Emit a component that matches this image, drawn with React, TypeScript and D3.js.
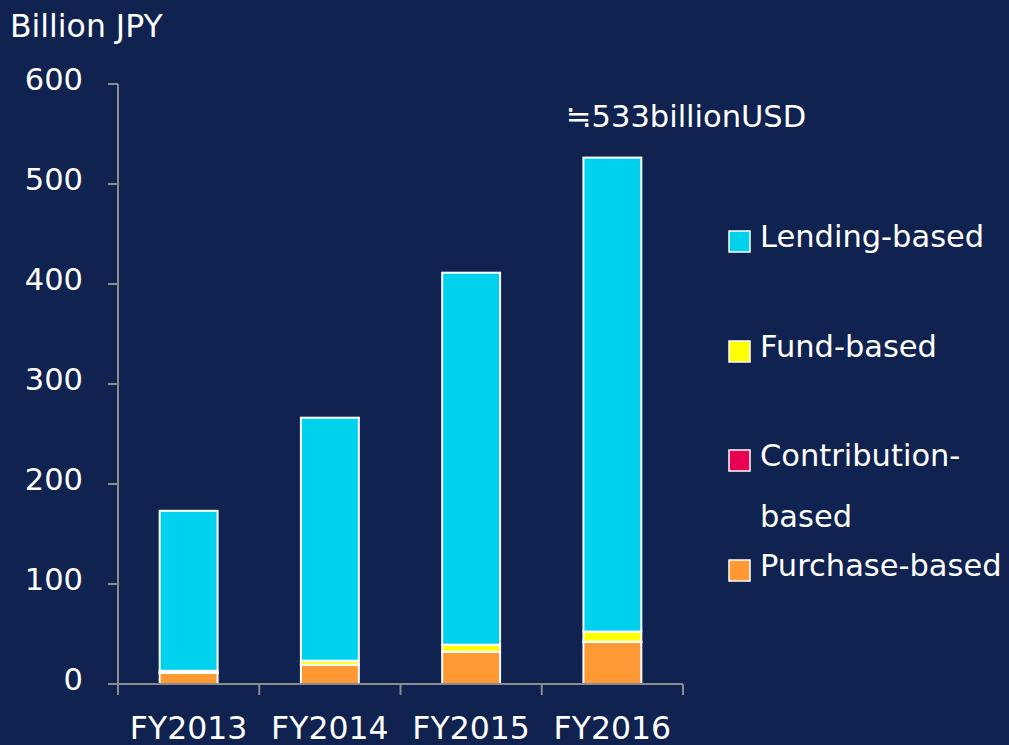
import React from "react";
import * as d3 from "d3";

const categories = ["FY2013", "FY2014", "FY2015", "FY2016"];
const seriesKeys = ["Purchase-based", "Contribution-based", "Fund-based", "Lending-based"];
const purchase = [11, 19, 32, 42];
const contribution = [0.2, 0.3, 0.3, 0.4];
const fund = [2, 4, 7, 10];
const lending = [160, 243, 372, 474];
const yTicks = [0, 100, 200, 300, 400, 500, 600];
const colors: Record<string, string> = {
  "Purchase-based": "#FF9933",
  "Contribution-based": "#EA0050",
  "Fund-based": "#FFFF00",
  "Lending-based": "#00D2EE",
};
const legendItems = [
  { key: "Lending-based", lines: ["Lending-based"] },
  { key: "Fund-based", lines: ["Fund-based"] },
  { key: "Contribution-based", lines: ["Contribution-", "based"] },
  { key: "Purchase-based", lines: ["Purchase-based"] },
];
const annotation = "≒533billionUSD";
const unitLabel = "Billion JPY";

export default function App() {
  const W = 1009, H = 745;
  const font = "'DejaVu Sans', Verdana, sans-serif";
  const x = d3.scaleBand<string>().domain(categories).range([118, 683]).paddingInner(0.59).paddingOuter(0.295);
  const y = d3.scaleLinear().domain([0, 600]).range([684, 84]);
  const rows = categories.map((c, i) => ({
    cat: c,
    "Purchase-based": purchase[i],
    "Contribution-based": contribution[i],
    "Fund-based": fund[i],
    "Lending-based": lending[i],
  }));
  const stacked = d3.stack<any>().keys(seriesKeys)(rows);
  const step = x.step();
  const boundaries = [0, 1, 2, 3, 4].map((k) => 118 + k * step);
  const axisColor = "#8C8C8C";
  const legendY = [230, 340, 449, 559];
  return (
    <svg width={W} height={H} style={{ position: "absolute", left: 0, top: 0 }} fontFamily={font}>
      <rect x={0} y={0} width={W} height={H} fill="#10224F" />
      <text x={10} y={37} fill="#fff" fontSize={31.5}>{unitLabel}</text>
      {/* y axis */}
      <line x1={118} x2={118} y1={y(600)} y2={y(0)} stroke={axisColor} strokeWidth={2} />
      {yTicks.map((t) => (
        <g key={t}>
          <line x1={108} x2={118} y1={y(t)} y2={y(t)} stroke={axisColor} strokeWidth={2} />
          <text x={83} y={y(t) + 6} fill="#fff" fontSize={30.5} textAnchor="end">{t}</text>
        </g>
      ))}
      {/* bars */}
      {stacked.map((s) => (
        <g key={s.key}>
          {s.map((d, i) => (
            <rect
              key={i}
              x={x(categories[i])!}
              width={x.bandwidth()}
              y={y(d[1])}
              height={Math.max(0, y(d[0]) - y(d[1]))}
              fill={colors[s.key]}
              stroke="#fff"
              strokeWidth={2}
            />
          ))}
        </g>
      ))}
      {/* x axis */}
      <line x1={118} x2={683} y1={y(0)} y2={y(0)} stroke={axisColor} strokeWidth={2} />
      {boundaries.map((bx, i) => (
        <line key={i} x1={bx} x2={bx} y1={y(0)} y2={y(0) + 11} stroke={axisColor} strokeWidth={2} />
      ))}
      {categories.map((c) => (
        <text key={c} x={x(c)! + x.bandwidth() / 2} y={739} fill="#fff" fontSize={31.5} textAnchor="middle">{c}</text>
      ))}
      <text x={566} y={127} fill="#fff" fontSize={30.5}>{annotation}</text>
      {/* legend */}
      {legendItems.map((it, i) => (
        <g key={it.key}>
          <rect x={729} y={legendY[i] + 1} width={21} height={21} fill={colors[it.key]} stroke="#fff" strokeWidth={1.5} />
          {it.lines.map((ln, j) => (
            <text key={j} x={760} y={legendY[i] + 17 + j * 61} fill="#fff" fontSize={30.5}>{ln}</text>
          ))}
        </g>
      ))}
    </svg>
  );
}
